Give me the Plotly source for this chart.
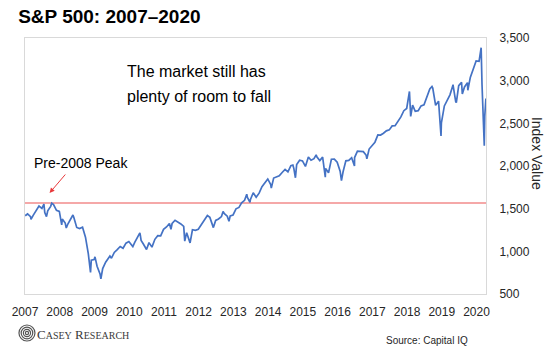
import plotly.graph_objects as go

# ---- data: S&P 500 (approximate closes) ----
monthly_dates = []
monthly_vals = []
years = list(range(2007, 2021))
closes = {
    2007: [1438, 1407, 1421, 1482, 1531, 1503, 1455, 1474, 1527, 1549, 1481, 1468],
    2008: [1379, 1331, 1323, 1386, 1400, 1280, 1267, 1283, 1166, 969, 896, 903],
    2009: [826, 735, 798, 873, 919, 919, 987, 1021, 1057, 1036, 1096, 1115],
    2010: [1074, 1104, 1169, 1187, 1089, 1031, 1102, 1049, 1141, 1183, 1181, 1258],
    2011: [1286, 1327, 1326, 1364, 1345, 1321, 1292, 1219, 1131, 1253, 1247, 1258],
    2012: [1312, 1366, 1408, 1398, 1310, 1362, 1379, 1407, 1441, 1412, 1416, 1426],
    2013: [1498, 1515, 1569, 1598, 1631, 1606, 1686, 1633, 1682, 1757, 1806, 1848],
    2014: [1783, 1859, 1872, 1884, 1924, 1960, 1931, 2003, 1972, 2018, 2068, 2059],
    2015: [1995, 2105, 2068, 2086, 2107, 2063, 2104, 1972, 1920, 2079, 2080, 2044],
    2016: [1940, 1932, 2060, 2065, 2097, 2099, 2174, 2171, 2168, 2126, 2199, 2239],
    2017: [2279, 2364, 2363, 2384, 2412, 2423, 2470, 2472, 2519, 2575, 2648, 2674],
    2018: [2824, 2714, 2641, 2648, 2705, 2718, 2816, 2902, 2914, 2712, 2760, 2507],
    2019: [2704, 2784, 2834, 2946, 2752, 2942, 2980, 2926, 2977, 3038, 3141, 3231],
    2020: [3226, 2954, 2585],
}
for y in years:
    for m, v in enumerate(closes[y], start=1):
        monthly_dates.append(f"{y}-{m:02d}-28")
        monthly_vals.append(v)

extreme_dates = ["2007-01-03", "2007-03-05", "2007-07-19", "2007-08-15", "2007-10-09",
                 "2008-01-22", "2008-03-10", "2008-05-19", "2008-11-20", "2009-01-06",
                 "2009-03-09", "2009-06-12", "2010-02-08", "2010-04-23", "2010-05-06",
                 "2010-07-02", "2011-03-16", "2011-04-29", "2011-08-08", "2011-10-03",
                 "2012-04-02", "2012-06-04", "2012-09-14", "2012-11-15", "2013-05-21",
                 "2013-06-24", "2014-02-03", "2014-09-18", "2014-10-15", "2015-05-21",
                 "2015-08-25", "2016-02-11", "2016-06-27", "2016-11-04", "2018-01-26",
                 "2018-02-08", "2018-09-20", "2018-12-24", "2019-04-30", "2019-06-03",
                 "2019-08-05", "2019-10-02", "2020-02-19", "2020-03-23", "2020-04-09"]
extreme_vals = [1417, 1374, 1553, 1406, 1565,
                1310, 1273, 1426, 752, 935,
                677, 946, 1056, 1217, 1128,
                1022, 1257, 1364, 1119, 1099,
                1419, 1278, 1466, 1353, 1669,
                1573, 1741, 2011, 1862, 2131,
                1868, 1829, 2000, 2085, 2873,
                2581, 2931, 2351, 2946, 2744,
                2844, 2887, 3386, 2237, 2790]

pairs = sorted(zip(monthly_dates + extreme_dates, monthly_vals + extreme_vals))
dates = [p[0] for p in pairs]
values = [p[1] for p in pairs]

PEAK = 1565
x_start, x_end = "2007-01-01", "2020-04-10"

fig = go.Figure()
fig.add_trace(go.Scatter(x=[x_start, x_end], y=[PEAK, PEAK], mode="lines",
                         line=dict(color="#f28b8b", width=1.5), hoverinfo="skip"))
fig.add_trace(go.Scatter(x=dates, y=values, mode="lines",
                         line=dict(color="#4472c4", width=1.7)))

font_family = "Liberation Sans, Arial, sans-serif"

fig.update_layout(
    width=550, height=354,
    margin=dict(l=17, r=64, t=38, b=60),
    paper_bgcolor="white", plot_bgcolor="white",
    showlegend=False,
    font=dict(family=font_family, size=12, color="#262626"),
    title=dict(text="<b>S&P 500: 2007–2020</b>", x=0.033, xanchor="left",
               y=0.955, yanchor="middle",
               font=dict(size=19, color="#000000", family=font_family)),
    xaxis=dict(type="date", range=[x_start, x_end], tickformat="%Y", dtick="M12",
               tick0="2007-01-01", showgrid=False, zeroline=False,
               showline=True, linecolor="#d9d9d9", linewidth=1, mirror=True,
               ticks="outside", ticklen=7, tickcolor="rgba(0,0,0,0)",
               tickfont=dict(size=12, color="#262626")),
    yaxis=dict(side="right", range=[500, 3500], dtick=500, tickformat=",",
               showgrid=False, zeroline=False,
               showline=True, linecolor="#d9d9d9", linewidth=1, mirror=True,
               ticks="outside", ticklen=10, tickcolor="rgba(0,0,0,0)",
               tickfont=dict(size=12, color="#262626")),
)

def px_x(px):
    return (px - 17) / 469

def px_y(py):
    return (294 - py) / 256

fig.add_annotation(text="The market still has", xref="paper", yref="paper",
                   x=px_x(119), y=px_y(71), xanchor="left", yanchor="middle",
                   showarrow=False, font=dict(size=16, color="#000000"))
fig.add_annotation(text="plenty of room to fall", xref="paper", yref="paper",
                   x=px_x(119), y=px_y(96), xanchor="left", yanchor="middle",
                   showarrow=False, font=dict(size=16, color="#000000"))
fig.add_annotation(text="Pre-2008 Peak", xref="paper", yref="paper",
                   x=px_x(24), y=px_y(163), xanchor="left", yanchor="middle",
                   showarrow=False, font=dict(size=14, color="#000000"))
fig.add_annotation(text="", xref="paper", yref="paper", x=px_x(42), y=px_y(193),
                   ax=17, ay=-20, showarrow=True, arrowhead=2, arrowsize=1,
                   arrowwidth=1, arrowcolor="#e8393b")
fig.add_annotation(text="Index Value", xref="paper", yref="paper",
                   x=px_x(538), y=px_y(153), textangle=90, showarrow=False,
                   xanchor="center", yanchor="middle",
                   font=dict(size=14, color="#262626"))
fig.add_annotation(text="Source: Capital IQ", xref="paper", yref="paper",
                   x=px_x(426), y=px_y(340), xanchor="center", yanchor="middle",
                   showarrow=False, font=dict(size=10, color="#262626"))
fig.add_annotation(
    text="C<span style='font-size:10px'>ASEY</span> R<span style='font-size:10px'>ESEARCH</span>",
    xref="paper", yref="paper", x=px_x(27), y=px_y(334),
    xanchor="left", yanchor="middle", showarrow=False,
    font=dict(size=13, color="#3a3a3a", family="Liberation Serif, Times New Roman, serif"))

# logo mark: concentric rings
for r in [8, 5.8, 3.6, 1.6]:
    fig.add_shape(type="circle", xref="paper", yref="paper",
                  xsizemode="pixel", ysizemode="pixel",
                  xanchor=px_x(19), yanchor=px_y(333),
                  x0=-r, x1=r, y0=-r, y1=r,
                  line=dict(color="#555555", width=1.2))

fig.write_html("out.html")
